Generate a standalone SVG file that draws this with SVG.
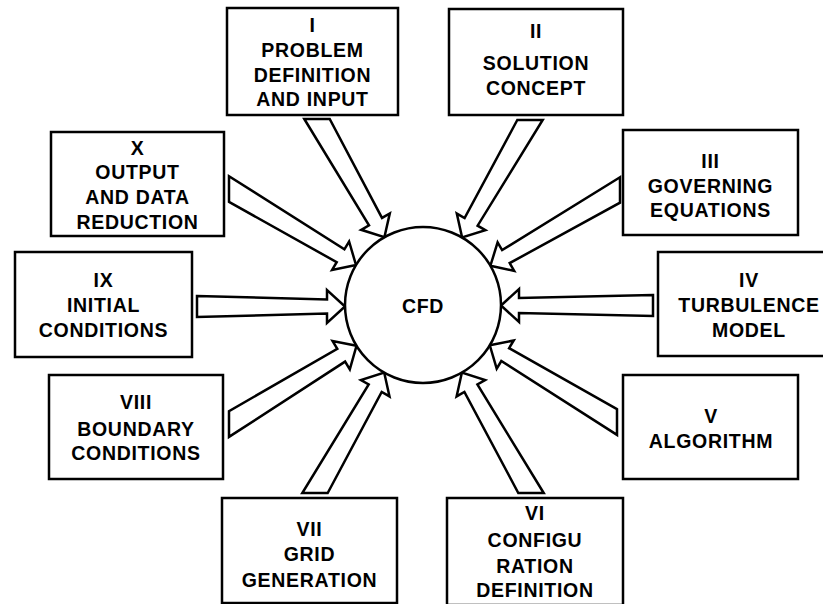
<svg xmlns="http://www.w3.org/2000/svg" width="823" height="604" viewBox="0 0 823 604">
<style>
  .box { fill: #fff; stroke: #000; stroke-width: 2.5; }
  .arr { fill: #fff; stroke: #000; stroke-width: 2.5; stroke-linejoin: miter; }
  .hub { fill: #fff; stroke: #000; stroke-width: 2.5; }
  text { font-family: "Liberation Sans", Arial, Helvetica, sans-serif; font-weight: bold; font-size: 19.5px; letter-spacing: 0.7px; text-anchor: middle; fill: #000; }
</style>
<rect x="0" y="0" width="823" height="604" fill="#fff"/>
<g id="connectors">
  <path class="arr" d="M 304.3,119 L 369.0,225.3 L 361.2,229.8 L 384.4,237.2 L 389.8,213.4 L 382.0,217.9 L 329.7,119 Z"/>
  <path class="arr" d="M 517.3,120 L 464.6,218.1 L 456.8,213.6 L 462.1,237.5 L 485.4,230.2 L 477.6,225.7 L 542.7,120 Z"/>
  <path class="arr" d="M 620,177.3 L 502.1,250.1 L 497.6,242.4 L 490.4,265.7 L 514.2,270.9 L 509.7,263.1 L 620,202.7 Z"/>
  <path class="arr" d="M 653,295 L 519,298 L 519,289 L 501,305.5 L 519,322 L 519,313 L 653,316 Z"/>
  <path class="arr" d="M 617,409.2 L 509.1,348.2 L 513.7,340.5 L 489.8,345.3 L 496.7,368.7 L 501.3,361.0 L 617,434.9 Z"/>
  <path class="arr" d="M 543.7,493 L 477.4,384.5 L 485.2,380.0 L 461.9,372.6 L 456.6,396.4 L 464.4,391.9 L 518.3,493 Z"/>
  <path class="arr" d="M 327.7,493 L 381.7,391.9 L 389.5,396.4 L 384.2,372.6 L 360.9,380.0 L 368.7,384.5 L 302.3,493 Z"/>
  <path class="arr" d="M 229,436.9 L 345.1,361.6 L 349.8,369.3 L 356.5,345.8 L 332.6,341.1 L 337.3,348.8 L 229,411.1 Z"/>
  <path class="arr" d="M 197,296 L 327,299.5 L 327,290 L 345,306.5 L 327,323 L 327,313.5 L 197,317 Z"/>
  <path class="arr" d="M 229,201.8 L 336.7,262.2 L 332.1,269.9 L 356.0,265.0 L 349.1,241.5 L 344.4,249.3 L 229,176.2 Z"/>
</g>
<g id="cfd">
  <circle class="hub" cx="423" cy="305" r="78"/>
  <text x="423" y="313">CFD</text>
</g>
<g id="node-I">
  <rect class="box" x="227" y="8" width="171" height="107"/>
  <text x="312.5" y="32">I</text>
  <text x="312.5" y="57">PROBLEM</text>
  <text x="312.5" y="82">DEFINITION</text>
  <text x="312.5" y="106">AND INPUT</text>
</g>
<g id="node-II">
  <rect class="box" x="449" y="9" width="174" height="106"/>
  <text x="536" y="38">II</text>
  <text x="536" y="69.5">SOLUTION</text>
  <text x="536" y="94.5">CONCEPT</text>
</g>
<g id="node-III">
  <rect class="box" x="623" y="130" width="175" height="105"/>
  <text x="710.5" y="168">III</text>
  <text x="710.5" y="193">GOVERNING</text>
  <text x="710.5" y="216.5">EQUATIONS</text>
</g>
<g id="node-IV">
  <rect class="box" x="658" y="252" width="182" height="104"/>
  <text x="749" y="286.5">IV</text>
  <text x="749" y="311.5">TURBULENCE</text>
  <text x="749" y="337">MODEL</text>
</g>
<g id="node-V">
  <rect class="box" x="623" y="375" width="175" height="104"/>
  <text x="711" y="422.5">V</text>
  <text x="711" y="447.5">ALGORITHM</text>
</g>
<g id="node-VI">
  <rect class="box" x="447" y="498" width="176" height="107"/>
  <text x="535" y="520">VI</text>
  <text x="535" y="547">CONFIGU</text>
  <text x="535" y="572.5">RATION</text>
  <text x="535" y="596.5">DEFINITION</text>
</g>
<g id="node-VII">
  <rect class="box" x="222" y="498" width="175" height="105"/>
  <text x="309.5" y="536">VII</text>
  <text x="309.5" y="560.5">GRID</text>
  <text x="309.5" y="586.5">GENERATION</text>
</g>
<g id="node-VIII">
  <rect class="box" x="49" y="375" width="174" height="104"/>
  <text x="136" y="408.5">VIII</text>
  <text x="136" y="435.5">BOUNDARY</text>
  <text x="136" y="459.5">CONDITIONS</text>
</g>
<g id="node-IX">
  <rect class="box" x="15" y="252" width="177" height="105"/>
  <text x="103.5" y="287">IX</text>
  <text x="103.5" y="312">INITIAL</text>
  <text x="103.5" y="337">CONDITIONS</text>
</g>
<g id="node-X">
  <rect class="box" x="51" y="132" width="173" height="104"/>
  <text x="137.5" y="155">X</text>
  <text x="137.5" y="179">OUTPUT</text>
  <text x="137.5" y="204">AND DATA</text>
  <text x="137.5" y="229">REDUCTION</text>
</g>
</svg>
